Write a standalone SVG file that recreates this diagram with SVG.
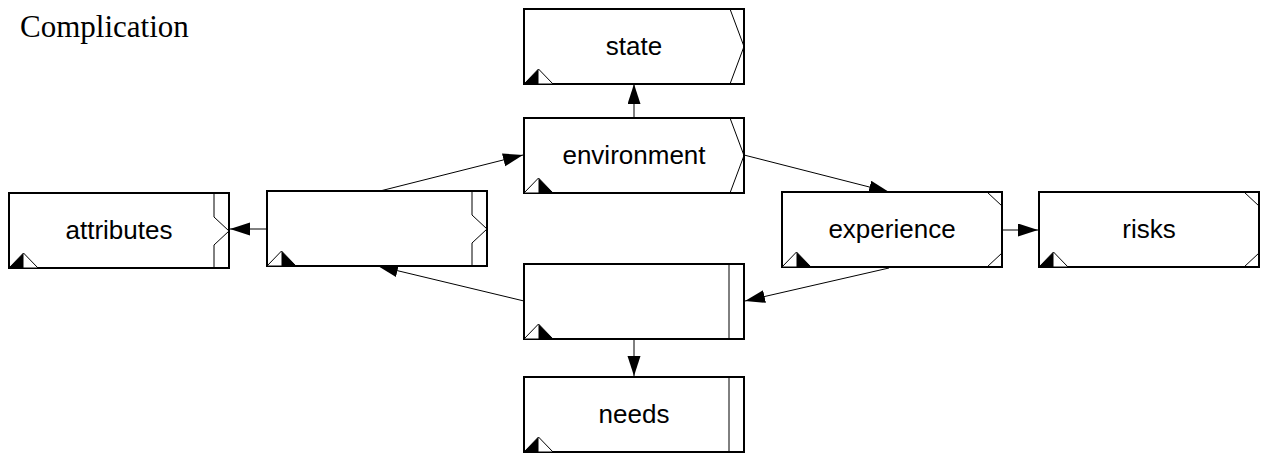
<svg xmlns="http://www.w3.org/2000/svg" xmlns:xlink="http://www.w3.org/1999/xlink" width="1271" height="454" viewBox="0 0 1271 454">
  <style>
    .box { fill: #ffffff; stroke: #000000; stroke-width: 2; }
    .deco { fill: none; stroke: #000000; stroke-width: 1; }
    .tri { fill: #ffffff; stroke: #000000; stroke-width: 1; }
    .half { fill: #000000; stroke: none; }
    .label { font-family: "Liberation Sans", Arial, sans-serif; font-size: 26px; fill: #000000; text-anchor: middle; }
    .title { font-family: "Liberation Serif", "Times New Roman", serif; font-size: 31px; fill: #000000; }
    .edge { fill: none; stroke: #000000; stroke-width: 1; marker-end: url(#arrow); }
  </style>
  <defs>
    <marker id="arrow" markerUnits="userSpaceOnUse" markerWidth="22" markerHeight="15" refX="20" refY="6.5" orient="auto">
      <path d="M0,0 L20,6.5 L0,13 Z" fill="#000000"/>
    </marker>
    <!-- box body, 220 x 75 -->
    <rect id="body" class="box" x="0" y="0" width="220" height="75"/>
    <!-- bottom-left marks -->
    <g id="tri-left">
      <polygon class="tri" points="0,75 14.5,60 29,75"/>
      <polygon class="half" points="0,75 14.5,60 14.5,75"/>
    </g>
    <g id="tri-right">
      <polygon class="tri" points="0,75 14.5,60 29,75"/>
      <polygon class="half" points="14.5,60 29,75 14.5,75"/>
    </g>
    <!-- right-side marks -->
    <polyline id="chevron" class="deco" points="206,0 220,37.5 206,75"/>
    <polyline id="notch" class="deco" points="205,0 205,24 220,38 205,52 205,75"/>
    <g id="corners">
      <line class="deco" x1="205" y1="0" x2="220" y2="14"/>
      <line class="deco" x1="220" y1="61" x2="205" y2="75"/>
    </g>
    <line id="bar" class="deco" x1="205" y1="0" x2="205" y2="75"/>
  </defs>

  <text class="title" x="20" y="37">Complication</text>

  <!-- connectors -->
  <g id="connectors">
    <line class="edge" x1="634" y1="118" x2="634" y2="84"/>
    <line class="edge" x1="380" y1="191" x2="523" y2="155"/>
    <line class="edge" x1="744" y1="155" x2="889" y2="192"/>
    <line class="edge" x1="267" y1="229" x2="230" y2="229"/>
    <line class="edge" x1="1002" y1="230" x2="1038" y2="230"/>
    <line class="edge" x1="889" y1="268" x2="745" y2="301"/>
    <line class="edge" x1="524" y1="301" x2="378" y2="266"/>
    <line class="edge" x1="634" y1="339" x2="634" y2="376"/>
  </g>

  <g id="node-state" transform="translate(524,9)">
    <use xlink:href="#body"/>
    <use xlink:href="#chevron"/>
    <use xlink:href="#tri-left"/>
    <text class="label" x="110" y="46">state</text>
  </g>

  <g id="node-environment" transform="translate(524,118)">
    <use xlink:href="#body"/>
    <use xlink:href="#chevron"/>
    <use xlink:href="#tri-right"/>
    <text class="label" x="110" y="46">environment</text>
  </g>

  <g id="node-attributes" transform="translate(9,193)">
    <use xlink:href="#body"/>
    <use xlink:href="#notch"/>
    <use xlink:href="#tri-left"/>
    <text class="label" x="110" y="46">attributes</text>
  </g>

  <g id="node-blank-left" transform="translate(267,191)">
    <use xlink:href="#body"/>
    <use xlink:href="#notch"/>
    <use xlink:href="#tri-right"/>
  </g>

  <g id="node-experience" transform="translate(782,192)">
    <use xlink:href="#body"/>
    <use xlink:href="#corners"/>
    <use xlink:href="#tri-right"/>
    <text class="label" x="110" y="46">experience</text>
  </g>

  <g id="node-risks" transform="translate(1039,192)">
    <use xlink:href="#body"/>
    <use xlink:href="#corners"/>
    <use xlink:href="#tri-left"/>
    <text class="label" x="110" y="46">risks</text>
  </g>

  <g id="node-blank-bottom" transform="translate(524,264)">
    <use xlink:href="#body"/>
    <use xlink:href="#bar"/>
    <use xlink:href="#tri-right"/>
  </g>

  <g id="node-needs" transform="translate(524,377)">
    <use xlink:href="#body"/>
    <use xlink:href="#bar"/>
    <use xlink:href="#tri-left"/>
    <text class="label" x="110" y="46">needs</text>
  </g>
</svg>
